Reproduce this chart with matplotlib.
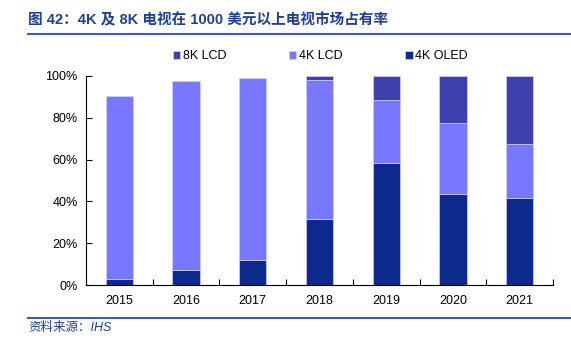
import matplotlib
matplotlib.use("Agg")
import matplotlib.pyplot as plt
import numpy as np
from matplotlib.lines import Line2D

plt.rcParams['font.family'] = ['Liberation Sans', 'Noto Sans CJK SC', 'DejaVu Sans']

# Data (share of >$1000 TV market)
years = ['2015', '2016', '2017', '2018', '2019', '2020', '2021']
oled_4k = [2.9, 7.0, 12.2, 31.7, 58.4, 43.4, 41.6]
lcd_4k = [87.6, 90.4, 87.0, 66.5, 30.0, 34.1, 25.9]
lcd_8k = [0.0, 0.0, 0.0, 1.8, 11.6, 22.5, 32.5]

c_oled = '#0C2A8E'
c_lcd4 = '#7878FF'
c_lcd8 = '#3F3FAF'
edge = '#D0D0FF'

W, H = 571, 338
fig = plt.figure(figsize=(W / 100, H / 100), dpi=100)
ax = fig.add_axes([86 / W, 1 - 285 / H, (553 - 86) / W, (285 - 76) / H])

x = np.arange(len(years))
w = 0.41
o = np.array(oled_4k)
l4 = np.array(lcd_4k)
l8 = np.array(lcd_8k)
ax.bar(x, o, w, color=c_oled, edgecolor=edge, linewidth=0.5, label='4K OLED')
ax.bar(x, l4, w, bottom=o, color=c_lcd4, edgecolor=edge, linewidth=0.5, label='4K LCD')
ax.bar(x, l8, w, bottom=o + l4, color=c_lcd8, edgecolor=edge, linewidth=0.5, label='8K LCD')

ax.set_xlim(-0.5, len(years) - 0.5)
ax.set_ylim(0, 100)
ax.set_yticks(np.arange(0, 101, 20))
ax.set_yticklabels([f'{v}%' for v in range(0, 101, 20)], fontsize=9)
ax.set_xticks(x)
ax.set_xticklabels(years, fontsize=9)
ax.set_xticks(np.arange(-0.5, len(years), 1), minor=True)
ax.tick_params(axis='x', which='major', length=0, pad=7)
ax.tick_params(axis='x', which='minor', length=4, direction='in', width=0.8)
ax.tick_params(axis='y', length=4, direction='in', width=0.8, pad=6)
for s in ['top', 'right']:
    ax.spines[s].set_visible(False)
ax.spines['left'].set_linewidth(0.8)
ax.spines['bottom'].set_linewidth(0.8)

h, lab = ax.get_legend_handles_labels()
fig.legend(h[::-1], lab[::-1], loc='center', bbox_to_anchor=(0.561, 1 - 56 / H),
           ncol=3, frameon=False, fontsize=9, handlelength=0.6, handleheight=0.6,
           handletextpad=0.2, columnspacing=5.0)

title_col = '#1F3F99'
fig.text(28 / W, 1 - 20 / H, '图 42：4K 及 8K 电视在 1000 美元以上电视市场占有率',
         fontsize=10.5, fontweight='bold', color=title_col, va='center', ha='left')
fig.add_artist(Line2D([28 / W, 1], [1 - 34 / H, 1 - 34 / H], color='#3A5DAE', linewidth=1.5))
fig.add_artist(Line2D([28 / W, 1], [1 - 318 / H, 1 - 318 / H], color='#3A5DAE', linewidth=1.5))
fig.text(28 / W, 1 - 328 / H, '资料来源：IHS', fontsize=9, fontstyle='italic',
         color=title_col, va='center', ha='left')

fig.savefig('out.png', dpi=100)
